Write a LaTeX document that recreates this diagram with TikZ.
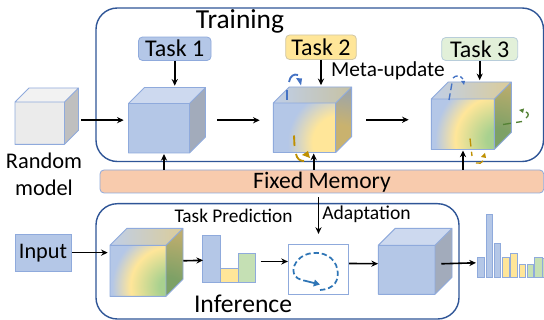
\documentclass[tikz,border=0pt]{standalone}
\usepackage{fontspec}
\setmainfont{Carlito}
\usetikzlibrary{fit,arrows.meta,calc}
\definecolor{bluef}{HTML}{B4C7E7}
\definecolor{blueb}{HTML}{8FAADC}
\definecolor{framec}{HTML}{2F5597}
\definecolor{yellowf}{HTML}{FFE699}
\definecolor{greenf}{HTML}{C5E0B4}
\definecolor{paleg}{HTML}{E2F0D9}
\definecolor{orangef}{HTML}{F8CBAD}
\definecolor{dashblue}{HTML}{4472C4}
\definecolor{dashyellow}{HTML}{BF9000}
\definecolor{dashgreen}{HTML}{548235}
\definecolor{dashloop}{HTML}{2E75B6}
\definecolor{topblue}{rgb}{.75,.81,.91}
\definecolor{toptan}{rgb}{.78,.76,.64}
\definecolor{toptanb}{rgb}{.86,.80,.60}
% front and side gradients (25bp is the radius of the drawn circle)
\pgfdeclareradialshading{ybF}{\pgfpoint{0bp}{0bp}}{rgb(0bp)=(1,.902,.6);rgb(11bp)=(1,.902,.6);rgb(21bp)=(.706,.78,.906);rgb(50bp)=(.706,.78,.906)}
\pgfdeclareradialshading{ybS}{\pgfpoint{0bp}{0bp}}{rgb(0bp)=(.79,.70,.43);rgb(9bp)=(.79,.70,.43);rgb(24bp)=(.56,.63,.74);rgb(50bp)=(.56,.63,.74)}
\pgfdeclareradialshading{ygF}{\pgfpoint{0bp}{0bp}}{rgb(0bp)=(.66,.82,.56);rgb(4bp)=(.66,.82,.56);rgb(15bp)=(1,.902,.6);rgb(22bp)=(.706,.78,.906);rgb(50bp)=(.706,.78,.906)}
\pgfdeclareradialshading{ygS}{\pgfpoint{0bp}{0bp}}{rgb(0bp)=(.49,.63,.40);rgb(6bp)=(.49,.63,.40);rgb(20bp)=(.75,.68,.43);rgb(50bp)=(.76,.68,.47)}
\tikzset{
 ybT/.style={left color=topblue,middle color=topblue,right color=toptan},
 ygT/.style={left color=topblue,middle color=topblue!75!toptanb,right color=toptanb},
 arr/.style={-{Stealth[length=5pt,width=4.6pt]},line width=1.2pt,black},
 txt/.style={inner sep=0pt,text=black},
 frame/.style={draw=framec,line width=1.05pt,rounded corners=16pt},
 taskbox/.style={rounded corners=3pt,line width=.6pt,inner sep=0pt,font=\fontsize{18}{20}\selectfont},
 bar/.style={line width=.7pt},
 bluebar/.style={bar,fill=bluef,draw=blueb},
 yelbar/.style={bar,fill=yellowf,draw=blueb},
 grebar/.style={bar,fill=greenf,draw=blueb},
 dsh/.style={line width=1.3pt,dash pattern=on 4pt off 2.2pt},
 head/.style={-{Triangle[length=4.6pt,width=5pt]}},
}
% name, x0, y0, x1, y1, depth, front colour, side colour, top colour
\newcommand{\plaincube}[9]{%
 \fill[#7] (#2,#3) rectangle (#4,#5);
 \fill[#8] (#4,#3) -- ++(#6,-#6) -- (#4+#6,#5-#6) -- (#4,#5) -- cycle;
 \fill[#9] (#2,#3) -- ++(#6,-#6) -- (#4+#6,#3-#6) -- (#4,#3) -- cycle;
 \cubeedges{#1}{#2}{#3}{#4}{#5}{#6}}
\newcommand{\cubeedges}[6]{%
 \draw[blueb,line width=.7pt,line join=round] (#2,#3) rectangle (#4,#5)
  (#2,#3) -- ++(#6,-#6) -- (#4+#6,#3-#6) -- (#4,#3)
  (#4+#6,#3-#6) -- (#4+#6,#5-#6) -- (#4,#5);
 \node[fit={(#2,#3-#6) (#4+#6,#5)},inner sep=0pt] (#1) {};}
% name, x0,y0,x1,y1,d, shading prefix, radius
\newcommand{\gradcube}[8]{%
 \begin{scope}\clip (#2,#3) rectangle (#4,#5);
  \fill[bluef] (#2,#3) rectangle (#4,#5);
  \shade[shading=#7F] (#4+4,#5-10) circle (#8);\end{scope}
 \begin{scope}\clip (#4,#3) -- ++(#6,-#6) -- (#4+#6,#5-#6) -- (#4,#5) -- cycle;
  \shade[shading=#7S] (#4,#5) circle (#8+15);\end{scope}
 \begin{scope}\clip (#2,#3) -- ++(#6,-#6) -- (#4+#6,#3-#6) -- (#4,#3) -- cycle;
  \shade[#7T] (#2,#3-#6) rectangle (#4+#6,#3);\end{scope}
 \cubeedges{#1}{#2}{#3}{#4}{#5}{#6}}
\begin{document}
\begin{tikzpicture}[x=0.75pt,y=-0.75pt]
\useasboundingbox (0,0) rectangle (544,320);
\fill[white] (0,0) rectangle (544,320);
% frames
\draw[frame] (96,8) rectangle (543.5,161.5);
\draw[frame] (96,203.7) rectangle (459,319);
% memory
\node[fit={(100,170) (543.7,193)},inner sep=0pt,fill=orangef,draw=blueb,rounded corners=3pt,line width=.6pt] (mem) {};
\node[txt,font=\fontsize{17.7}{20}\selectfont] at (322,182) (memt) {Fixed Memory};
% cubes
\plaincube{cR}{15}{102}{64.5}{144.3}{14}{black!8}{black!25}{black!5}
\plaincube{c1}{128.5}{103.5}{189.5}{153}{16}{bluef}{blueb!60!black!55}{blueb!45!white}
\gradcube{c2}{273.3}{103}{335.7}{152.5}{16}{yb}{62}
\gradcube{c3}{431.3}{99}{494.3}{149.5}{17}{yg}{72}
\gradcube{c4}{110}{245.3}{166}{296.3}{17}{yg}{66}
\plaincube{c5}{378.3}{245.3}{435}{294.3}{17}{bluef}{blueb!60!black!55}{blueb!45!white}
% titles
\node[txt,font=\fontsize{20.6}{22}\selectfont] (ttr) at (240,21.5) {Training};
\node[txt,font=\fontsize{19.2}{22}\selectfont] (tin) at (243,304) {Inference};
\node[txt,font=\fontsize{16.8}{19}\selectfont,align=center] (rm) at (44,174) {Random\\[1pt]model};
\node[txt,font=\fontsize{16}{18}\selectfont] (mu) at (388,71) {Meta-update};
\node[txt,font=\fontsize{14.7}{17}\selectfont] (ad) at (366.5,214) {Adaptation};
\node[txt,font=\fontsize{14.5}{17}\selectfont] (tp) at (233.5,216) {Task Prediction};
% tasks
\node[taskbox,fill=bluef,draw=blueb,minimum width=54.4pt,minimum height=17.6pt] (t1) at (174.75,48.75) {Task 1};
\node[taskbox,fill=yellowf,draw=yellowf!70!black!60!white,minimum width=53pt,minimum height=18.4pt] (t2) at (321,47.25) {Task 2};
\node[taskbox,fill=paleg,draw=blueb!50!paleg,minimum width=57pt,minimum height=17.2pt] (t3) at (479.7,49) {Task 3};
\node[fit={(15,234.3) (71.5,271)},inner sep=0pt,fill=bluef,draw=blueb,line width=.6pt] (inp) {};
\node[txt,font=\fontsize{16.7}{18}\selectfont] (inpt) at (43,253) {Input};
% small bars
\node[fit={(202.5,235.5) (220.5,282.5)},inner sep=0pt,bluebar] (b1) {};
\node[fit={(220.5,268.5) (238.5,282.5)},inner sep=0pt,yelbar] (b2) {};
\node[fit={(238.5,253.5) (255.7,282.5)},inner sep=0pt,grebar] (b3) {};
% loop box
\node[fit={(288.3,244.3) (348.7,294.3)},inner sep=0pt,fill=white,draw=blueb,line width=.6pt] (lp) {};
\draw[dashloop,dsh] (320,290) .. controls (335,289) and (339,280) .. (337.5,270) .. controls (335,256) and (322,252) .. (313,253) .. controls (300,254) and (293,264) .. (293.5,271) .. controls (294,278) and (300,280) .. (306,281);
\draw[dashloop,line width=1.3pt,head] (306,281) -- (320,284.5);
% right bars
\foreach \xa/\xb/\yt/\st in {477.7/484.7/257.3/bluebar,486.3/492.7/214.3/bluebar,494.3/500.7/243.7/bluebar,502.3/509.3/257.7/yelbar,510.3/517.3/253.3/yelbar,519/525.7/264.3/yelbar,527/533.7/264.3/grebar,534.7/542/257.7/grebar,542.7/546/258/grebar}
  \path[\st] (\xa,\yt) rectangle (\xb,277);
\node[fit={(477.7,214.3) (544,277)},inner sep=0pt] (hist) {};
% connectors
\draw[arr] ([shift={(2.5,4)}]cR.east) -- ([shift={(-4.5,4)}]cR.east -| c1.west);
\draw[arr] (t1.south) -- ([shift={(0,-1.5)}]t1.south |- c1.north);
\draw[arr] ([shift={(11.5,0)}]c1.east) -- ([shift={(-13.3,0)}]c1.east -| c2.west);
\draw[arr] (t2.south) -- ([shift={(0,-1.5)}]t2.south |- c2.north);
\draw[arr] ([shift={(14.3,0)}]c2.east) -- ([shift={(-22.3,0)}]c2.east -| c3.west);
\draw[arr] (t3.south) -- ([shift={(0,-1.5)}]t3.south |- c3.north);
\draw[arr] (mem.north -| 164,0) -- (164,154);
\draw[arr] (mem.north -| 313.7,0) -- (313.7,153.5);
\draw[arr] (mem.north -| 463,0) -- (463,150.5);
\draw[arr] ([shift={(0,4)}]mem.south -| lp.north) -- ([shift={(0,-10)}]lp.north);
\draw[arr] (inp.east) -- ([xshift=-1.5pt]inp.east -| c4.west);
\draw[arr] ([shift={(0,-1.5)}]c4.east) -- ([shift={(1,0)}]b1.west |- 0,260.3);
\draw[arr] ([shift={(4.5,0)}]b3.east |- 0,261.5) -- (lp.west |- 0,261.5);
\draw[arr] (lp.east |- 0,263.5) -- (c5.west |- 0,263.7);
\draw[arr] ([shift={(-11,2.5)}]c5.east) -- ([shift={(-1.5,0)}]hist.west |- 0,262.8);
% update marks
\draw[dashblue,line width=1.4pt] (287,100) -- (287,90);
\draw[dashblue,line width=1.4pt] (289,82) .. controls (290,76) and (294,73.5) .. (298,75);
\fill[dashblue] (296,78) -- (302,78.5) -- (301,85.5) -- cycle;
\draw[dashyellow,line width=1.4pt] (294,135.5) -- (294.5,146);
\draw[dashyellow,line width=1.4pt] (296,154) .. controls (297,159) and (300,161) .. (304,161);
\fill[dashyellow] (302,155) -- (308,151) -- (310,158) -- cycle;
\draw[dashblue,line width=1pt,dash pattern=on 5pt off 2.5pt] (449,100) -- (452,83);
\draw[dashblue,line width=1pt,dash pattern=on 4pt off 2pt] (453,78) .. controls (456,75) and (460,75) .. (463,79);
\fill[dashblue] (461,81) -- (465,81) -- (464,85) -- cycle;
\draw[dashgreen,line width=1pt,dash pattern=on 6pt off 4pt] (503,124.5) -- (522,121.5);
\draw[dashgreen,line width=1pt] (526,118) .. controls (529,116) and (529,113) .. (526,112);
\fill[dashgreen] (519,110) -- (524,108.5) -- (523,113) -- cycle;
\draw[dashyellow,line width=1pt,dash pattern=on 6pt off 4pt] (470,138.5) -- (472,156);
\draw[dashyellow,line width=1pt] (476,163) .. controls (479,164) and (482,163) .. (483,161);
\fill[dashyellow] (481,157) -- (485,153) -- (486,158) -- cycle;
\end{tikzpicture}
\end{document}
